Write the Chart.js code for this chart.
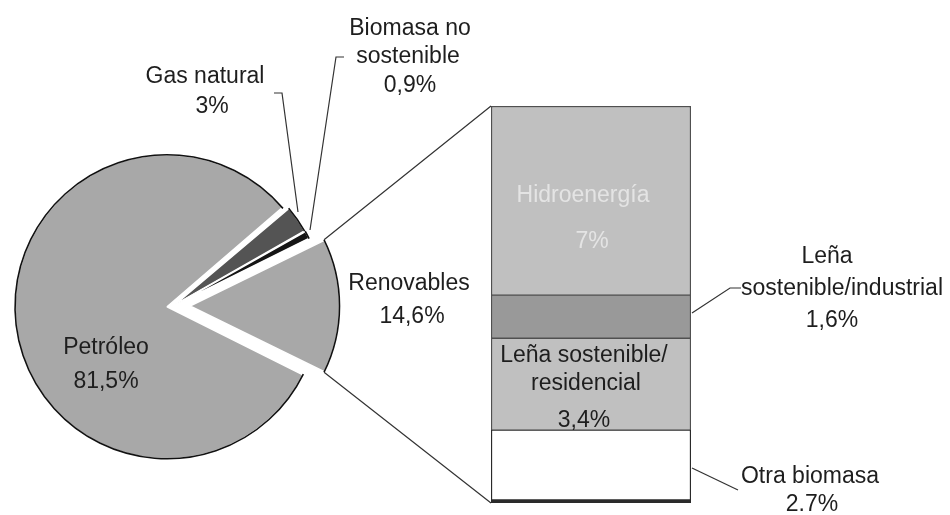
<!DOCTYPE html>
<html>
<head>
<meta charset="utf-8">
<script src="https://cdn.jsdelivr.net/npm/chart.js@4"></script>
<style>
  body { margin: 0; background: #fff; }
  #wrap { position: relative; width: 950px; height: 515px; }
  #wrap canvas { position: absolute; left: 0; top: 0; }
</style>
</head>
<body>
<div id="wrap">
  <canvas id="pie" width="950" height="515"></canvas>
  <canvas id="bar" width="950" height="515"></canvas>
</div>
<script>
// pie: first slice is the one split out into the bar
const pieLabels = ['Renovables', 'Petróleo', 'Gas natural', 'Biomasa no sostenible'];
const pieValues = [14.6, 81.5, 3, 0.9];
const pieText = [['Renovables', '14,6%'], ['Petróleo', '81,5%'], ['Gas natural', '3%'], ['Biomasa no', 'sostenible', '0,9%']];

// bar: bottom to top
const barLabels = ['Otra biomasa', 'Leña sostenible/residencial', 'Leña sostenible/industrial', 'Hidroenergía'];
const barValues = [2.7, 3.4, 1.6, 7];
const barText = [['Otra biomasa', '2.7%'], ['Leña sostenible/', 'residencial', '3,4%'], ['Leña', 'sostenible/industrial', '1,6%'], ['Hidroenergía', '7%']];

const FONT = '23px "Liberation Sans", Arial, sans-serif';
const INK = '#1e1e1e';

// where each label line sits (x centre, baseline)
const pieTextPos = [
  [[409, 290], [412, 323]],
  [[106, 354], [106, 388]],
  [[205, 83], [212, 113]],
  [[410, 35], [408, 63], [410, 92]],
];
const barTextPos = [
  [[810, 483], [812, 511]],
  [[584, 362], [586, 390], [584, 427]],
  [[827, 263], [842, 295], [832, 327]],
  [[583, 202], [592, 248]],
];
const leaders = [
  [[274, 93], [282, 93], [298, 212]],
  [[344, 57], [336, 57], [310, 230]],
  [[692, 313], [730, 288], [741, 288]],
  [[692, 468], [738, 490]],
];

function arcGeom(el) {
  const off = (el.options.offset || 0) / 4;
  const mid = (el.startAngle + el.endAngle) / 2;
  const circ = el.endAngle - el.startAngle;
  const fix = 1 - Math.sin(Math.min(Math.PI, circ));
  return {
    x: el.x + Math.cos(mid) * off,
    y: el.y + Math.sin(mid) * off,
    r: el.outerRadius + off * fix,
    a0: el.startAngle,
    a1: el.endAngle,
  };
}

const pieOutline = {
  id: 'pieOutline',
  afterDatasetsDraw(chart) {
    const ctx = chart.ctx;
    ctx.save();
    ctx.strokeStyle = '#111';
    ctx.lineWidth = 1.6;
    chart.getDatasetMeta(0).data.forEach((el) => {
      const g = arcGeom(el);
      ctx.beginPath();
      ctx.arc(g.x, g.y, g.r, g.a0, g.a1);
      ctx.stroke();
    });
    ctx.restore();
  },
};

const pieChart = new Chart(document.getElementById('pie'), {
  type: 'pie',
  data: {
    labels: pieLabels,
    datasets: [{
      data: pieValues,
      backgroundColor: ['#a8a8a8', '#a8a8a8', '#545454', '#151515'],
      borderColor: '#fff',
      borderWidth: 1.5,
      offset: [68, 24, 12, 12],
    }],
  },
  options: {
    responsive: false,
    animation: false,
    rotation: 63.72,
    radius: 146,
    layout: { padding: { left: 0, right: 604, top: 97, bottom: 0 } },
    plugins: { legend: { display: false }, tooltip: { enabled: false } },
  },
  plugins: [pieOutline],
});

const overlay = {
  id: 'overlay',
  afterDraw(chart) {
    const ctx = chart.ctx;
    ctx.save();
    ctx.strokeStyle = '#333';
    ctx.lineWidth = 1.2;

    // connectors from the split slice to the bar
    const g = arcGeom(pieChart.getDatasetMeta(0).data[0]);
    const top = chart.getDatasetMeta(barValues.length - 1).data[0];
    const bot = chart.getDatasetMeta(0).data[0];
    const left = top.x - top.width / 2;
    ctx.beginPath();
    ctx.moveTo(g.x + Math.cos(g.a0) * g.r, g.y + Math.sin(g.a0) * g.r);
    ctx.lineTo(left, top.y);
    ctx.moveTo(g.x + Math.cos(g.a1) * g.r, g.y + Math.sin(g.a1) * g.r);
    ctx.lineTo(left, bot.base);
    ctx.stroke();

    leaders.forEach((pts) => {
      ctx.beginPath();
      pts.forEach(([x, y], i) => (i ? ctx.lineTo(x, y) : ctx.moveTo(x, y)));
      ctx.stroke();
    });

    ctx.font = FONT;
    ctx.textAlign = 'center';
    ctx.textBaseline = 'alphabetic';
    const put = (lines, pos, color) => {
      ctx.fillStyle = color;
      lines.forEach((t, i) => ctx.fillText(t, pos[i][0], pos[i][1]));
    };
    pieText.forEach((l, i) => put(l, pieTextPos[i], INK));
    barText.forEach((l, i) => put(l, barTextPos[i], i === 3 ? '#e4e4e4' : INK));
    ctx.restore();
  },
};

const barColors = ['#ffffff', '#c0c0c0', '#999999', '#c0c0c0'];
new Chart(document.getElementById('bar'), {
  type: 'bar',
  data: {
    labels: ['Renovables'],
    datasets: barValues.map((v, i) => ({
      label: barLabels[i],
      data: [v],
      backgroundColor: barColors[i],
      borderColor: i === 0 ? '#2a2a2a' : '#505050',
      borderWidth: i === 0 ? { top: 1, left: 1.5, right: 1.5, bottom: 4 }
        : { top: i === 3 ? 1.5 : 1, left: 1.5, right: 1.5, bottom: 1 },
      borderSkipped: false,
      barPercentage: 1,
      categoryPercentage: 1,
    })),
  },
  options: {
    responsive: false,
    animation: false,
    layout: { padding: { left: 491, right: 259, top: 106, bottom: 12 } },
    scales: {
      x: { display: false, stacked: true },
      y: { display: false, stacked: true, min: 0, max: 14.7 },
    },
    plugins: { legend: { display: false }, tooltip: { enabled: false } },
  },
  plugins: [overlay],
});
</script>
</body>
</html>
